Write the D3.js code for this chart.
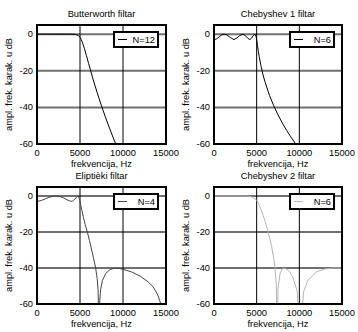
<!DOCTYPE html>
<html>
<head>
<meta charset="utf-8">
<script src="https://cdn.jsdelivr.net/npm/d3@7"></script>
<style>
	body { margin: 0; background: #fff; }
	text { font-family: "Liberation Sans", Arial, sans-serif; font-size: 9.3px; fill: #000; }
</style>
</head>
<body>
<svg id="chart" width="358" height="332"></svg>
<script>
// axis ticks shared by the 4 panels
var freqTicks = [0, 5000, 10000, 15000];
var dbTicks = [0, -20, -40, -60];

var titles = ["Butterworth filtar", "Chebyshev 1 filtar", "Eliptièki filtar", "Chebyshev 2 filtar"];
var legendLabels = ["N=12", "N=6", "N=4", "N=6"];

// frequency response (Hz, dB)
var butterFreq = [0, 2000, 4000, 4500, 4800, 5000, 5150, 5300, 5500, 5750, 6000, 6500, 7000, 7500, 8000, 8500, 9000, 9500];
var butterDb = [0, 0, -0.02, -0.17, -0.74, -1.7, -3.0, -4.8, -7.7, -11.8, -16.0, -24.3, -32.0, -39.2, -45.9, -52.2, -58.2, -63.8];

var cheb1Freq = [0, 300, 600, 900, 1200, 1500, 1900, 2350, 2700, 3000, 3400, 3700, 4000, 4200, 4400, 4600, 4800, 4950, 5000, 5100, 5200, 5300, 5500, 5750, 6000, 6500, 7000, 7500, 8000, 8500, 9000, 9500, 10000];
var cheb1Db = [-3.0, -2.6, -1.5, -0.4, 0, -0.4, -1.8, -3.0, -2.0, -0.8, 0, -0.9, -2.4, -3.0, -2.2, -0.8, 0, -1.5, -3.0, -6.3, -9.5, -12.3, -17.2, -22.3, -26.4, -33.4, -39.1, -44.1, -48.5, -52.5, -56.1, -59.5, -62.5];

var ellipFreq = [0, 500, 1000, 1500, 2000, 2300, 2700, 3100, 3500, 3900, 4100, 4400, 4650, 4750, 4850, 4950, 5000, 5100, 5200, 5400, 5600, 5850, 6100, 6300, 6550, 6820, 7000, 7100, 7200, 7300, 7400, 7600, 8000, 8500, 9000, 9500, 10000, 11000, 12000, 13000, 13500, 14000, 14300, 14600];
var ellipDb = [-3.0, -2.5, -1.5, -0.6, -0.1, 0, -0.3, -1.1, -2.1, -2.9, -2.9, -1.8, -0.3, 0, -0.6, -2.0, -3.0, -5.5, -7.5, -12, -15.8, -20, -24.7, -28.8, -34, -40, -46, -52, -75, -58, -52, -47, -43, -40.8, -40.1, -40.2, -40.7, -42.2, -44.5, -48, -50.5, -54.5, -58.5, -65];

var cheb2Freq = [0, 3000, 4000, 4500, 5000, 5250, 5500, 5750, 6000, 6250, 6500, 6750, 7000, 7150, 7300, 7400, 7500, 7750, 8000, 8250, 8750, 9250, 9750, 10100, 10500, 11000, 12000, 13000, 14000, 15000];
var cheb2Db = [0, 0, -0.1, -0.6, -2.3, -4.6, -7.5, -10.7, -14.2, -18.4, -22.9, -28.0, -34.6, -40, -49.2, -80, -51.5, -42.8, -40.5, -40, -41.4, -45.2, -52.9, -80, -53.2, -46.9, -42.2, -40.5, -40, -40.1];

var svg = d3.select("#chart");

function drawPanel(i, box, freq, db, color)
{
	var x = d3.scaleLinear().domain([0, 15000]).range([box.x0, box.x1]);
	var y = d3.scaleLinear().domain([-60, 5]).range([box.y1, box.y0]);
	var g = svg.append("g");

	g.append("clipPath").attr("id", "clip" + i)
		.append("rect")
		.attr("x", box.x0).attr("y", box.y0)
		.attr("width", box.x1 - box.x0).attr("height", box.y1 - box.y0);

	// grid: horizontal gray, vertical black
	g.selectAll(".hgrid").data(dbTicks.slice(0, 3)).enter().append("line")
		.attr("x1", box.x0).attr("x2", box.x1)
		.attr("y1", function(d) { return y(d); })
		.attr("y2", function(d) { return y(d); })
		.attr("stroke", "#707070")
		.attr("stroke-width", 2);
	g.selectAll(".vgrid").data(freqTicks.slice(1, 3)).enter().append("line")
		.attr("y1", box.y0).attr("y2", box.y1)
		.attr("x1", function(d) { return x(d); })
		.attr("x2", function(d) { return x(d); })
		.attr("stroke", "#000")
		.attr("stroke-width", 1);

	var pts = freq.map(function(f, k) { return [f, db[k]]; });
	var line = d3.line()
		.x(function(d) { return x(d[0]); })
		.y(function(d) { return y(d[1]); });
	g.append("path")
		.attr("d", line(pts))
		.attr("fill", "none")
		.attr("stroke", color)
		.attr("stroke-width", 1)
		.attr("clip-path", "url(#clip" + i + ")");

	// frame
	g.append("rect")
		.attr("x", box.x0).attr("y", box.y0)
		.attr("width", box.x1 - box.x0).attr("height", box.y1 - box.y0)
		.attr("fill", "none")
		.attr("stroke", "#000")
		.attr("stroke-width", 2);

	// tick labels
	g.selectAll(".ytick").data(dbTicks).enter().append("text")
		.attr("x", box.x0 - 4)
		.attr("y", function(d) { return y(d) + 3; })
		.attr("text-anchor", "end")
		.text(function(d) { return d; });
	g.selectAll(".xtick").data(freqTicks).enter().append("text")
		.attr("x", function(d) { return x(d); })
		.attr("y", box.y1 + 11.5)
		.attr("text-anchor", "middle")
		.text(function(d) { return d; });

	g.append("text")
		.attr("x", (box.x0 + box.x1) / 2)
		.attr("y", box.y1 + 22.5)
		.attr("text-anchor", "middle")
		.text("frekvencija, Hz");
	g.append("text")
		.attr("transform", "translate(" + (box.x0 - 25) + "," + ((box.y0 + box.y1) / 2) + ") rotate(-90)")
		.attr("text-anchor", "middle")
		.text("ampl. frek. karak. u dB");
	g.append("text")
		.attr("x", (box.x0 + box.x1) / 2)
		.attr("y", box.y0 - 8)
		.attr("text-anchor", "middle")
		.text(titles[i]);

	// legend
	var lx = box.x1 - 52, ly = box.y0 + 7;
	g.append("rect")
		.attr("x", lx).attr("y", ly)
		.attr("width", 44).attr("height", 15)
		.attr("fill", "#fff")
		.attr("stroke", "#000")
		.attr("stroke-width", 2);
	g.append("line")
		.attr("x1", lx + 4).attr("x2", lx + 13)
		.attr("y1", ly + 7.5).attr("y2", ly + 7.5)
		.attr("stroke", color);
	g.append("text")
		.attr("x", lx + 41)
		.attr("y", ly + 11)
		.attr("text-anchor", "end")
		.text(legendLabels[i]);
}

drawPanel(0, {x0: 37, x1: 166, y0: 25, y1: 144}, butterFreq, butterDb, "#000");
drawPanel(1, {x0: 214, x1: 342, y0: 25, y1: 144}, cheb1Freq, cheb1Db, "#000");
drawPanel(2, {x0: 37, x1: 166, y0: 187, y1: 304}, ellipFreq, ellipDb, "#444");
drawPanel(3, {x0: 214, x1: 342, y0: 187, y1: 304}, cheb2Freq, cheb2Db, "#b4b4b4");
</script>
</body>
</html>
